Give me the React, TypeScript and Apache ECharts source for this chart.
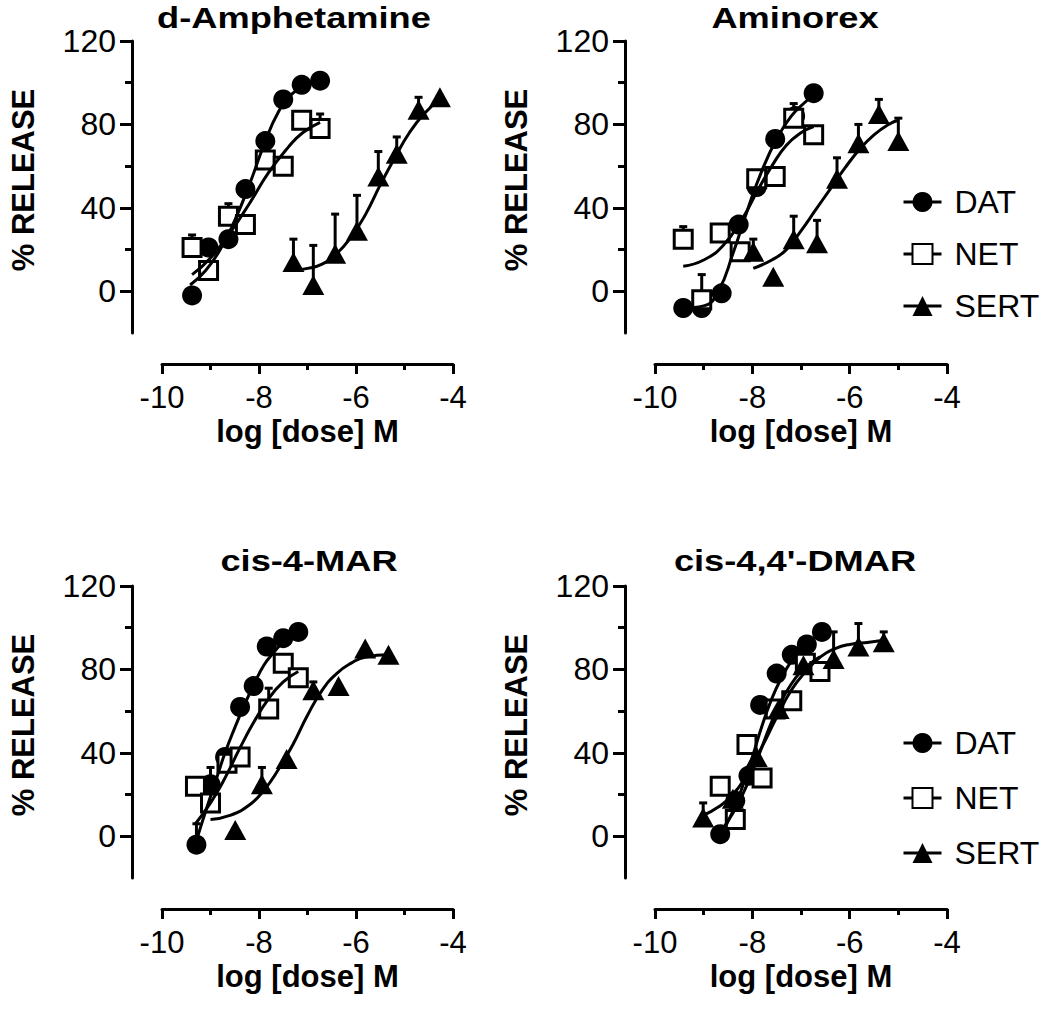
import React, { useEffect, useRef } from "react";
import * as echarts from "echarts";

const FONT = '"Liberation Sans", Arial, Helvetica, sans-serif';

const titles = ["d-Amphetamine", "Aminorex", "cis-4-MAR", "cis-4,4'-DMAR"];
const legendNames = ["DAT", "NET", "SERT"];
const xTickValues = [-10, -8, -6, -4];
const yTickValues = [0, 40, 80, 120];
const yMinorTickValues = [20, 60, 100];

// ---- Panel 1: d-Amphetamine ----
const p1DAT = [[-9.38, -2], [-9.04, 21], [-8.63, 25], [-8.28, 49], [-7.87, 72], [-7.5, 92], [-7.12, 99], [-6.74, 101]];
const p1NET = [[-9.38, 21], [-9.04, 10], [-8.63, 36], [-8.28, 32], [-7.87, 63], [-7.5, 60], [-7.12, 82], [-6.74, 78]];
const p1SERT = [[-7.29, 14], [-6.88, 3], [-6.43, 18], [-5.98, 29], [-5.54, 55], [-5.16, 66], [-4.71, 87], [-4.27, 93]];
const p1DATfit = [[-9.42, 3], [-9.1, 10], [-8.8, 20], [-8.5, 34], [-8.2, 51], [-7.9, 70], [-7.6, 86], [-7.3, 95], [-7.0, 99], [-6.74, 101]];
const p1NETfit = [[-9.38, 8], [-9.0, 16], [-8.6, 28], [-8.2, 42], [-7.8, 57], [-7.4, 69], [-7.1, 76], [-6.74, 81]];
const p1SERTfit = [[-7.29, 10], [-7.0, 11], [-6.7, 13], [-6.4, 18], [-6.1, 26], [-5.8, 37], [-5.5, 51], [-5.2, 64], [-4.9, 76], [-4.6, 85], [-4.27, 92]];
const p1NETerr = [[-9.38, 21, 27], [-8.63, 36, 42], [-6.74, 78, 85]];
const p1SERTerr = [[-7.29, 14, 25], [-6.88, 3, 22], [-6.43, 18, 37], [-5.98, 29, 46], [-5.54, 55, 67], [-5.16, 66, 74], [-4.71, 87, 93]];

// ---- Panel 2: Aminorex ----
const p2DAT = [[-9.42, -8], [-9.04, -8], [-8.63, -1], [-8.28, 32], [-7.91, 50], [-7.53, 73], [-7.12, 84], [-6.74, 95]];
const p2NET = [[-9.42, 25], [-9.04, -4], [-8.66, 28], [-8.25, 19], [-7.91, 54], [-7.53, 55], [-7.15, 83], [-6.74, 75]];
const p2SERT = [[-7.98, 19], [-7.57, 7], [-7.15, 25], [-6.67, 23], [-6.26, 54], [-5.82, 71], [-5.4, 85], [-5.0, 72]];
const p2DATfit = [[-9.42, -8], [-9.0, -7], [-8.7, 0], [-8.4, 18], [-8.1, 39], [-7.8, 58], [-7.5, 73], [-7.2, 84], [-6.9, 91], [-6.74, 94]];
const p2NETfit = [[-9.42, 12], [-9.0, 15], [-8.6, 22], [-8.2, 35], [-7.9, 48], [-7.6, 60], [-7.3, 70], [-7.0, 76], [-6.74, 79]];
const p2SERTfit = [[-7.98, 11], [-7.6, 15], [-7.3, 20], [-7.0, 29], [-6.7, 39], [-6.4, 49], [-6.1, 59], [-5.8, 68], [-5.5, 75], [-5.2, 80], [-5.0, 82]];
const p2NETerr = [[-9.42, 25, 31], [-9.04, -4, 8], [-7.15, 83, 90]];
const p2SERTerr = [[-7.98, 19, 25], [-7.15, 25, 36], [-6.67, 23, 34], [-6.26, 54, 64], [-5.82, 71, 80], [-5.4, 85, 92], [-5.0, 72, 83]];

// ---- Panel 3: cis-4-MAR ----
const p3DAT = [[-9.29, -4], [-9.0, 25], [-8.7, 38], [-8.39, 62], [-8.11, 72], [-7.84, 91], [-7.5, 95], [-7.19, 98]];
const p3NET = [[-9.31, 24], [-9.0, 16], [-8.66, 35], [-8.39, 38], [-7.8, 61], [-7.5, 83], [-7.19, 76]];
const p3SERT = [[-8.49, 3], [-7.94, 25], [-7.43, 37], [-6.88, 70], [-6.36, 72], [-5.81, 90], [-5.33, 87]];
const p3DATfit = [[-9.29, -2], [-9.1, 12], [-8.9, 26], [-8.7, 40], [-8.5, 52], [-8.3, 63], [-8.1, 73], [-7.9, 82], [-7.7, 88], [-7.5, 93], [-7.19, 97]];
const p3NETfit = [[-9.31, 6], [-9.0, 16], [-8.7, 28], [-8.4, 42], [-8.1, 55], [-7.8, 66], [-7.5, 74], [-7.19, 79]];
const p3SERTfit = [[-9.0, 8], [-8.6, 10], [-8.2, 15], [-7.9, 22], [-7.6, 32], [-7.3, 44], [-7.0, 58], [-6.7, 70], [-6.4, 78], [-6.1, 83], [-5.8, 86], [-5.33, 87]];
const p3DATerr = [[-9.29, -4, 6], [-9.0, 25, 33]];
const p3NETerr = [[-7.8, 61, 71]];
const p3SERTerr = [[-7.94, 25, 33], [-6.88, 70, 74]];

// ---- Panel 4: cis-4,4'-DMAR ----
const p4DAT = [[-8.66, 1], [-8.35, 17], [-8.08, 29], [-7.84, 63], [-7.5, 78], [-7.19, 87], [-6.88, 92], [-6.57, 98]];
const p4NET = [[-8.66, 24], [-8.35, 8], [-8.11, 44], [-7.8, 28], [-7.53, 61], [-7.19, 65], [-6.91, 83], [-6.61, 79]];
const p4SERT = [[-9.01, 9], [-8.4, 18], [-7.91, 38], [-7.46, 61], [-6.95, 82], [-6.33, 85], [-5.82, 91], [-5.3, 93]];
const p4DATfit = [[-8.66, 0], [-8.4, 12], [-8.2, 24], [-8.0, 38], [-7.8, 53], [-7.6, 66], [-7.4, 76], [-7.2, 84], [-7.0, 90], [-6.8, 94], [-6.57, 97]];
const p4NETfit = [[-8.66, 2], [-8.4, 11], [-8.2, 20], [-8.0, 31], [-7.8, 43], [-7.6, 55], [-7.4, 65], [-7.2, 73], [-7.0, 79], [-6.8, 83], [-6.61, 86]];
const p4SERTfit = [[-9.01, 10], [-8.7, 14], [-8.4, 20], [-8.1, 30], [-7.8, 43], [-7.5, 57], [-7.2, 70], [-6.9, 79], [-6.6, 86], [-6.3, 90], [-6.0, 92], [-5.6, 93], [-5.3, 94]];
const p4SERTerr = [[-9.01, 9, 16], [-6.33, 85, 98], [-5.82, 91, 102], [-5.3, 93, 98]];

const panels = [
  { pts: [p1DAT, p1NET, p1SERT], fits: [p1DATfit, p1NETfit, p1SERTfit], errs: [[], p1NETerr, p1SERTerr] },
  { pts: [p2DAT, p2NET, p2SERT], fits: [p2DATfit, p2NETfit, p2SERTfit], errs: [[], p2NETerr, p2SERTerr] },
  { pts: [p3DAT, p3NET, p3SERT], fits: [p3DATfit, p3NETfit, p3SERTfit], errs: [p3DATerr, p3NETerr, p3SERTerr] },
  { pts: [p4DAT, p4NET, p4SERT], fits: [p4DATfit, p4NETfit, p4SERTfit], errs: [[], [], p4SERTerr] },
];

// layout
const gridBoxes = [
  { left: 162, top: 41, width: 291, height: 292 },
  { left: 655, top: 41, width: 292, height: 292 },
  { left: 162, top: 586, width: 291, height: 292 },
  { left: 655, top: 586, width: 292, height: 292 },
];
const titlePos = [
  [294, 18],
  [795, 18],
  [309, 561],
  [795, 561],
];

const markerStyles = [
  { symbol: "circle", symbolSize: 20, itemStyle: { color: "#000", borderColor: "#000", borderWidth: 0 } },
  { symbol: "rect", symbolSize: 18, itemStyle: { color: "#fff", borderColor: "#000", borderWidth: 3 } },
  { symbol: "triangle", symbolSize: [22, 20], itemStyle: { color: "#000", borderColor: "#000", borderWidth: 0 } },
];

const BLACK = "#000";

export default function App() {
  const ref = useRef<HTMLDivElement>(null);
  useEffect(() => {
    if (!ref.current) return;
    const chart = echarts.init(ref.current, undefined, { renderer: "svg" });

    const grid: any[] = [];
    const xAxis: any[] = [];
    const yAxis: any[] = [];
    const series: any[] = [];

    gridBoxes.forEach((b, i) => {
      grid.push({ ...b, containLabel: false, outerBoundsMode: "none" });
      xAxis.push({
        gridIndex: i,
        type: "value",
        min: -10,
        max: -4,
        interval: 2,
        position: "bottom",
        offset: 31,
        axisLine: { show: true, onZero: false, lineStyle: { color: BLACK, width: 3 } },
        axisTick: { show: true, length: 10, lineStyle: { color: BLACK, width: 3 } },
        minorTick: { show: true, splitNumber: 2, length: 6, lineStyle: { color: BLACK, width: 3 } },
        splitLine: { show: false },
        minorSplitLine: { show: false },
        axisLabel: {
          color: BLACK,
          fontSize: 31,
          lineHeight: 27,
          fontFamily: FONT,
          margin: 20,
          customValues: xTickValues,
        },
        name: "log [dose] M",
        nameLocation: "middle",
        nameGap: 54,
        nameMoveOverlap: false,
        nameTextStyle: { color: BLACK, fontSize: 31, lineHeight: 27, fontWeight: "bold", fontFamily: FONT },
      });
      yAxis.push({
        gridIndex: i,
        type: "value",
        min: -20,
        max: 120,
        position: "left",
        offset: 30,
        axisLine: { show: true, onZero: false, lineStyle: { color: BLACK, width: 3 } },
        axisTick: { show: true, length: 12, customValues: yTickValues, lineStyle: { color: BLACK, width: 3 } },
        splitLine: { show: false },
        axisLabel: {
          color: BLACK,
          fontSize: 32,
          fontFamily: FONT,
          margin: 16,
          customValues: yTickValues,
        },
        name: "% RELEASE",
        nameLocation: "middle",
        nameRotate: 90,
        nameGap: 95,
        nameMoveOverlap: false,
        nameTextStyle: { color: BLACK, fontSize: 31, lineHeight: 28, fontWeight: "bold", fontFamily: FONT, padding: [0, 0, 0, 14] },
      });
      yAxis.push({
        gridIndex: i,
        type: "value",
        min: -20,
        max: 120,
        position: "left",
        offset: 30,
        axisLine: { show: false, onZero: false },
        axisTick: { show: true, length: 7, customValues: yMinorTickValues, lineStyle: { color: BLACK, width: 3 } },
        axisLabel: { show: false },
        splitLine: { show: false },
      });
    });

    // markers first so legend picks them up
    panels.forEach((p, i) => {
      p.pts.forEach((pts, k) => {
        series.push({
          name: legendNames[k],
          type: "line",
          xAxisIndex: i,
          yAxisIndex: i * 2,
          data: pts,
          ...markerStyles[k],
          showSymbol: true,
          lineStyle: { width: 0, opacity: 0 },
          z: 3,
          silent: true,
        });
      });
    });
    panels.forEach((p, i) => {
      p.fits.forEach((fit, k) => {
        series.push({
          name: legendNames[k] + " fit",
          type: "line",
          xAxisIndex: i,
          yAxisIndex: i * 2,
          data: fit,
          smooth: 0.5,
          showSymbol: false,
          symbol: "none",
          lineStyle: { color: BLACK, width: 3 },
          z: 4,
          silent: true,
        });
      });
      p.errs.forEach((err, k) => {
        if (!err.length) return;
        series.push({
          name: legendNames[k] + " SEM",
          type: "custom",
          xAxisIndex: i,
          yAxisIndex: i * 2,
          data: err,
          z: 2,
          silent: true,
          renderItem: (params: any, api: any) => {
            const x = api.value(0);
            const y = api.value(1);
            const t = api.value(2);
            const a = api.coord([x, y]);
            const b = api.coord([x, t]);
            return {
              type: "group",
              children: [
                { type: "line", shape: { x1: a[0], y1: a[1], x2: b[0], y2: b[1] }, style: { stroke: BLACK, lineWidth: 3 } },
                { type: "line", shape: { x1: b[0] - 4, y1: b[1], x2: b[0] + 4, y2: b[1] }, style: { stroke: BLACK, lineWidth: 3 } },
              ],
            };
          },
        });
      });
    });

    const legendCommon = {
      data: legendNames,
      orient: "vertical",
      left: 897,
      itemWidth: 38,
      itemHeight: 25,
      selectedMode: false,
      lineStyle: { color: BLACK, width: 3, opacity: 1 },
      textStyle: { color: BLACK, fontSize: 32, fontFamily: FONT, lineHeight: 32, padding: [0, 0, 0, 8] },
    };

    const graphic = titles.map((t, i) => ({
      type: "text",
      x: titlePos[i][0],
      y: titlePos[i][1],
      scaleX: 1.25,
      style: {
        text: t,
        fill: BLACK,
        fontSize: 29,
        fontWeight: "bold",
        fontFamily: FONT,
        align: "center",
        verticalAlign: "middle",
        textAlign: "center",
        textVerticalAlign: "middle",
      },
    }));

    chart.setOption({
      animation: false,
      backgroundColor: "#fff",
      grid,
      xAxis,
      yAxis,
      series,
      legend: [
        { ...legendCommon, top: 181, itemGap: 20 },
        { ...legendCommon, top: 722, itemGap: 23 },
      ],
      graphic,
    });

    return () => chart.dispose();
  }, []);

  return (
    <div
      ref={ref}
      style={{ position: "absolute", left: 0, top: 0, width: 1050, height: 1010, background: "#fff" }}
    />
  );
}
